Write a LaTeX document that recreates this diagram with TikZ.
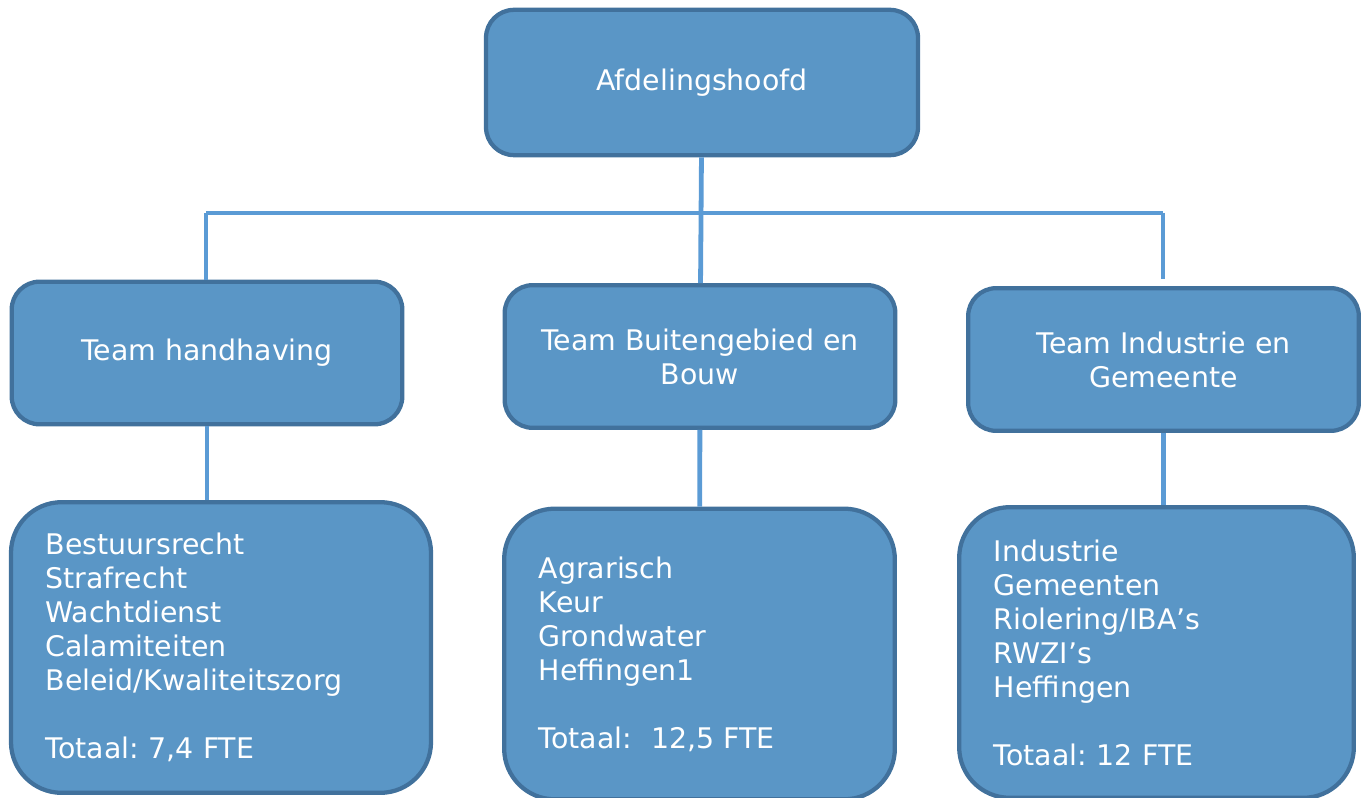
\documentclass[tikz,border=0pt]{standalone}
\usepackage{fontspec}
\setmainfont{DejaVu Sans}
\usetikzlibrary{positioning}
\definecolor{boxfill}{RGB}{90,150,198}
\definecolor{boxdraw}{RGB}{65,113,156}
\definecolor{linkblue}{RGB}{91,155,213}
\frenchspacing
\tikzset{
  unit/.style = {rectangle, rounded corners=21pt, draw=boxdraw, line width=3.2pt, fill=boxfill, text=white, align=center, font=\fontsize{21.3}{25.5}\selectfont},
  head/.style = {unit, minimum width=324pt, minimum height=109pt},
  team/.style = {unit, minimum width=293pt, minimum height=107pt},
  tasks/.style = {unit, rounded corners=38pt, align=left, inner xsep=26pt, minimum height=218pt},
  link/.style = {draw=linkblue, line width=3.6pt}
}

\begin{document}
\begin{tikzpicture}[x=0.75pt, y=-0.75pt]
\useasboundingbox (0,0) rectangle (1369,798);

\node[head] (hoofd) at (702,82.5) {Afdelingshoofd};

\node[team] (handh) at (207,353) {Team handhaving};
\node[team] (buiten) at (700,356.5) {Team Buitengebied en\\Bouw};
\node[team] (indus) at (1163.5,359.5) {Team Industrie en\\Gemeente};

\node[tasks, text width=263pt] (takenH) at (221,647.5) {Bestuursrecht\\Strafrecht\\Wachtdienst\\Calamiteiten\\Beleid/Kwaliteitszorg\\[25.5pt]Totaal: 7,4 FTE};
\node[tasks, text width=241pt] (takenB) at (699.5,654) {Agrarisch\\Keur\\Grondwater\\Heffingen1\\[25.5pt]Totaal:\ \ 12,5 FTE};
\node[tasks, text width=244pt] (takenI) at (1156.5,652.5) {Industrie\\Gemeenten\\Riolering/IBA’s\\RWZI’s\\Heffingen\\[25.5pt]Totaal: 12 FTE};

\coordinate (barL) at (206,213);
\coordinate (barR) at (1163,213);
\coordinate (endR) at (1163,279);

\draw[link] (hoofd) -- (buiten);
\draw[link] (barL) -- (barR);
\draw[link] (barL) -- (barL |- handh.north);
\draw[link] (barR) -- (endR);
\draw[link] (handh.south) -- (handh.south |- takenH.north);
\draw[link] (buiten) -- (takenB);
\draw[link] (indus.south) -- (indus.south |- takenI.north);
\end{tikzpicture}
\end{document}
